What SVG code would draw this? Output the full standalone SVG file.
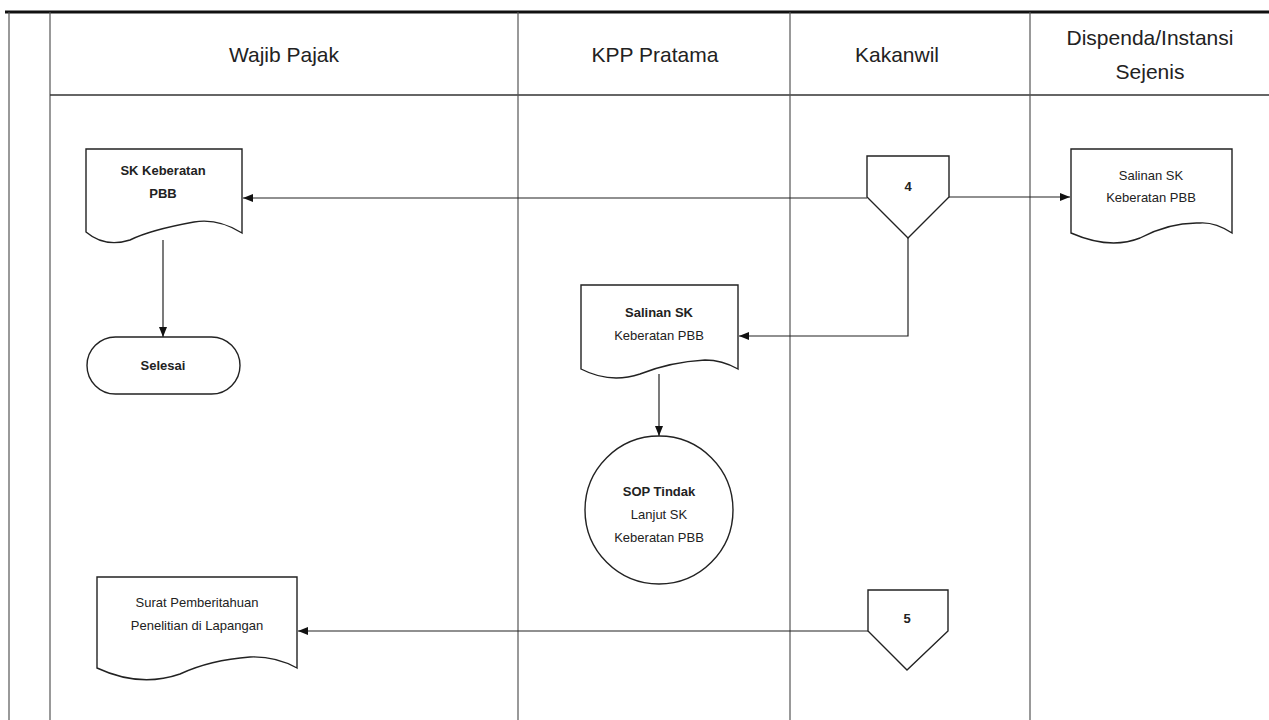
<svg xmlns="http://www.w3.org/2000/svg" width="1269" height="720" viewBox="0 0 1269 720">
<defs>
<marker id="arr" markerWidth="10" markerHeight="8" refX="10" refY="4" orient="auto" markerUnits="userSpaceOnUse">
<path d="M0,0 L10,4 L0,8 Z" fill="#111"/>
</marker>
<style>
.lane{stroke:#555;stroke-width:1.2;fill:none}
.shape{fill:#fff;stroke:#222;stroke-width:1.4}
.conn{fill:none;stroke:#222;stroke-width:1.2}
.hdr{font-family:"Liberation Sans",Arial,sans-serif;font-size:21px;fill:#222;text-anchor:middle}
.t{font-family:"Liberation Sans",Arial,sans-serif;font-size:13px;fill:#222;text-anchor:middle}
.tb{font-family:"Liberation Sans",Arial,sans-serif;font-size:13px;font-weight:bold;fill:#222;text-anchor:middle}
</style>
</defs>
<rect width="1269" height="720" fill="#fff"/>
<g id="lanes">
<line x1="5" y1="12" x2="1269" y2="12" stroke="#111" stroke-width="3"/>
<line x1="9" y1="12" x2="9" y2="720" class="lane"/>
<line x1="50" y1="12" x2="50" y2="720" class="lane"/>
<line x1="50" y1="95" x2="1269" y2="95" stroke="#333" stroke-width="1.6"/>
<line x1="518" y1="12" x2="518" y2="720" class="lane"/>
<line x1="790" y1="12" x2="790" y2="720" class="lane"/>
<line x1="1030" y1="12" x2="1030" y2="720" class="lane"/>
<text class="hdr" x="284" y="62">Wajib Pajak</text>
<text class="hdr" x="655" y="62">KPP Pratama</text>
<text class="hdr" x="897" y="62">Kakanwil</text>
<text class="hdr" x="1150" y="45">Dispenda/Instansi</text>
<text class="hdr" x="1150" y="79">Sejenis</text>
</g>
<g id="connectors">
<line class="conn" x1="867" y1="198" x2="243" y2="198" marker-end="url(#arr)"/>
<line class="conn" x1="949" y1="197" x2="1070" y2="197" marker-end="url(#arr)"/>
<polyline class="conn" points="908,238 908,336 739,336" marker-end="url(#arr)"/>
<line class="conn" x1="163" y1="240" x2="163" y2="337" marker-end="url(#arr)"/>
<line class="conn" x1="659" y1="374" x2="659" y2="436" marker-end="url(#arr)"/>
<line class="conn" x1="868" y1="631" x2="298" y2="631" marker-end="url(#arr)"/>
</g>
<g id="n_sk_wp">
<path class="shape" d="M86,149 H242 V233 Q218,218 194,222 Q150,230 130,240 Q105,248 86,232 Z"/>
<text class="tb" x="163" y="175">SK Keberatan</text>
<text class="tb" x="163" y="198">PBB</text>
</g>
<g id="n_selesai">
<rect class="shape" x="87" y="337" width="153" height="57" rx="28.5" ry="28.5"/>
<text class="tb" x="163" y="370">Selesai</text>
</g>
<g id="n_off4">
<path class="shape" d="M867,156 H949 V197 L908,238 L867,197 Z"/>
<text class="tb" x="908" y="191">4</text>
</g>
<g id="n_salinan_disp">
<path class="shape" d="M1071,149 H1232 V233 Q1215,222 1200,223 Q1170,222 1140,238 Q1110,250 1071,233 Z"/>
<text class="t" x="1151" y="180">Salinan SK</text>
<text class="t" x="1151" y="202">Keberatan PBB</text>
</g>
<g id="n_salinan_kpp">
<path class="shape" d="M581,285 H738 V369 Q722,360 705,360 Q670,362 640,374 Q610,384 581,369 Z"/>
<text class="tb" x="659" y="317">Salinan SK</text>
<text class="t" x="659" y="340">Keberatan PBB</text>
</g>
<g id="n_sop">
<circle class="shape" cx="659" cy="510" r="74"/>
<text class="tb" x="659" y="496">SOP Tindak</text>
<text class="t" x="659" y="519">Lanjut SK</text>
<text class="t" x="659" y="542">Keberatan PBB</text>
</g>
<g id="n_surat">
<path class="shape" d="M97,577 H297 V668 Q275,656 250,657 Q210,660 180,674 Q140,688 97,668 Z"/>
<text class="t" x="197" y="607">Surat Pemberitahuan</text>
<text class="t" x="197" y="630">Penelitian di Lapangan</text>
</g>
<g id="n_off5">
<path class="shape" d="M868,590 H948 V631 L907,670 L868,631 Z"/>
<text class="tb" x="907" y="623">5</text>
</g>
</svg>
